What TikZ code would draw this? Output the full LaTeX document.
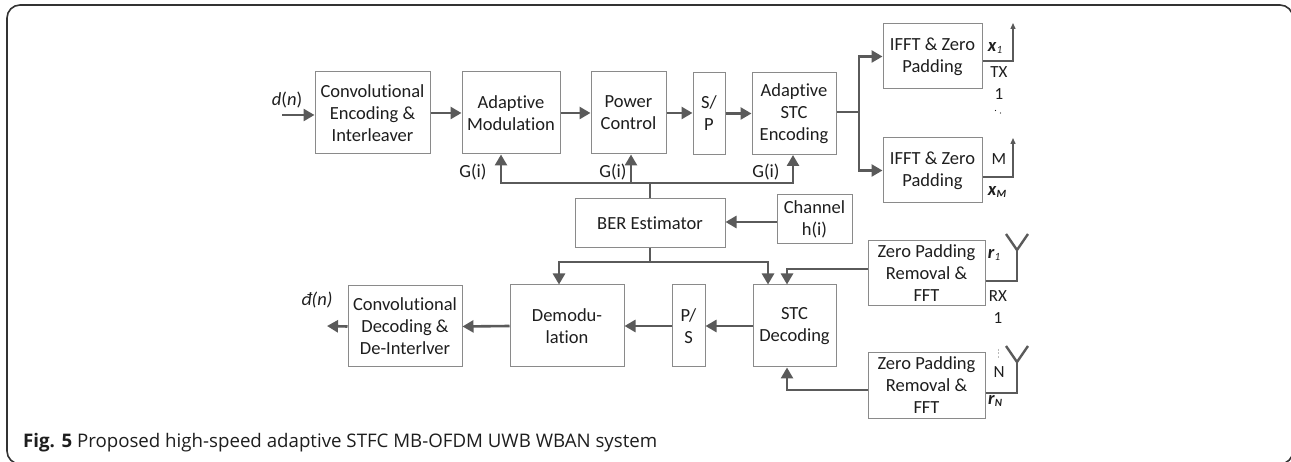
\documentclass[tikz,border=0pt]{standalone}
\usepackage{fontspec}
\setmainfont{Carlito}[Ligatures=NoCommon]
\newfontfamily\capfont{Open Sans}
\usetikzlibrary{arrows.meta,calc}
\definecolor{boxc}{HTML}{8A8A8A}
\definecolor{arrc}{HTML}{5A5A5A}
\definecolor{txtc}{HTML}{1E1E1E}
\definecolor{framec}{HTML}{333333}
\tikzset{
  blk/.style={draw=boxc, line width=1pt, align=center, inner sep=0pt, text=txtc,
    font=\fontsize{18.5}{22}\selectfont},
  arr/.style={draw=arrc, line width=2.6pt, -{Triangle[length=11pt,width=12pt]}},
  fline/.style={draw=arrc, line width=2.6pt},
  ant/.style={draw=arrc, line width=1.3pt},
  tip/.style={-{Triangle[length=6pt,width=5pt]}},
  lbl/.style={text=txtc, inner sep=0pt, font=\fontsize{18.5}{20}\selectfont},
  sml/.style={text=txtc, inner sep=0pt, font=\fontsize{17}{19}\selectfont}
}
\begin{document}
\begin{tikzpicture}[x=1pt,y=-1pt]
\useasboundingbox (0,0) rectangle (1291,462);
\fill[white] (0,0) rectangle (1291,462);
% frame
\draw[framec, line width=1.6pt, rounded corners=13pt] (7,5) rectangle (1293,464);

% transmitter chain
\node[blk, minimum width=115pt, minimum height=82pt] (conv) at (372.5,113) {Convolutional\\Encoding \&\\Interleaver};
\node[blk, minimum width=98pt, minimum height=82pt] (am) at (511,113) {Adaptive\\Modulation};
\node[blk, minimum width=75pt, minimum height=82pt] (pc) at (628.5,113) {Power\\Control};
\node[blk, minimum width=32pt, minimum height=82pt] (sp) at (709,113.5) {S/\\P};
\node[blk, minimum width=84pt, minimum height=82pt] (astc) at (794,113.5) {Adaptive\\STC\\Encoding};
\node[blk, minimum width=99pt, minimum height=65pt] (ifft1) at (932.5,56.5) {IFFT \& Zero\\Padding};
\node[blk, minimum width=99pt, minimum height=65pt] (ifft2) at (932.5,170.5) {IFFT \& Zero\\Padding};

% middle
\node[blk, minimum width=150pt, minimum height=49pt] (ber) at (650,223.5) {BER Estimator};
\node[blk, minimum width=75pt, minimum height=49pt] (chan) at (814.5,219.5) {Channel\\h(i)};

% receiver chain
\node[blk, minimum width=117pt, minimum height=65pt] (zp1) at (926.5,273.5) {Zero Padding\\Removal \&\\FFT};
\node[blk, minimum width=117pt, minimum height=65pt] (zp2) at (926.5,385.5) {Zero Padding\\Removal \&\\FFT};
\node[blk, minimum width=83pt, minimum height=82pt] (stcd) at (794.5,326) {STC\\Decoding};
\node[blk, minimum width=33pt, minimum height=82pt] (ps) at (688.5,326) {P/\\S};
\node[blk, minimum width=114pt, minimum height=82pt] (demod) at (567,326) {Demodu-\\lation};
\node[blk, minimum width=114pt, minimum height=81pt] (convd) at (405,326.5) {Convolutional\\Decoding \&\\De-Interlver};

% coordinates
\coordinate (in) at (282,115);
\coordinate (out) at (327,326);
\coordinate (bus) at (650,183);
\coordinate (bus2) at (650,262);
\coordinate (split) at (859,112);
\coordinate (tx1) at (1013,23);
\coordinate (tx2) at (1013,138);
\coordinate (rx1) at (1017,250);
\coordinate (rx2) at (1017,362);

% forward arrows
\draw[arr] (in) -- (conv.west |- in);
\draw[arr] (conv.east) -- (am.west);
\draw[arr] (am.east) -- (pc.west);
\draw[arr] (pc.east) -- (sp.west |- pc.east);
\draw[arr] (sp.east) -- (astc.west);
\draw[fline] (astc.east |- split) -- (split);
\draw[arr] (split) |- (ifft1.west);
\draw[arr] (split) |- (ifft2.west);

% feedback
\draw[fline] (ber.north) -- (bus);
\draw[arr] (bus) -| ([xshift=-10pt]am.south);
\draw[arr] (bus) -| ([xshift=2.5pt]pc.south);
\draw[arr] (bus) -| ([xshift=-1pt]astc.south);
\draw[arr] ([yshift=-2.5pt]chan.west) -- ([yshift=-2.5pt]chan.west -| ber.east);
\draw[fline] (ber.south) -- (bus2);
\draw[arr] (bus2) -| ([xshift=-8pt]demod.north);
\draw[arr] (bus2) -| ([xshift=-26.5pt]stcd.north);

% receiver arrows
\draw[arr] ([yshift=4.5pt]zp1.west) -| ([xshift=-7.5pt]stcd.north);
\draw[arr] ([yshift=-4.5pt]zp2.west) -| ([xshift=-7.5pt]stcd.south);
\draw[arr] (stcd.west) -- (ps.east);
\draw[arr] (ps.west) -- (demod.east);
\draw[arr] (demod.west) -- (convd.east);
\draw[arr] (convd.west) -- (out);

% TX antennas
\draw[ant, tip] ([yshift=-4.5pt]ifft1.east) -| (tx1);
\draw[ant, tip] ([yshift=-6.5pt]ifft2.east) -| (tx2);
% RX antennas
\draw[ant] ([yshift=-7.5pt]zp1.east) -| (rx1);
\draw[fline, line width=2.4pt, line join=miter] (1006,234) -- (rx1) -- (1028,234);
\draw[ant] ([yshift=-7.5pt]zp2.east) -| (rx2);
\draw[fline, line width=2.4pt, line join=miter] (1006,346) -- (rx2) -- (1028,346);

% labels
\node[lbl] (dn) at (287,100) {\textit{d}(\textit{n})};
\node[lbl] (dhn) at (317,300) {\textit{đ(n)}};
\node[lbl] (g1) at (473,172) {G(i)};
\node[lbl] (g2) at (613,172) {G(i)};
\node[lbl] (g3) at (766,172) {G(i)};
\node[lbl] (x1) at (995,48) {\textbf{\textit{x}}\raisebox{-0.2ex}{\fontsize{11}{11}\selectfont\textit{1}}};
\node[sml] (txl) at (999,72) {TX};
\node[sml] (txn) at (999,94) {1};
\fill[txtc] (995.5,110.5) circle (0.7pt) (1000.5,113) circle (0.7pt);
\node[sml] (ml) at (999,159) {M};
\node[lbl] (xm) at (997,192) {\textbf{\textit{x}}\raisebox{-0.2ex}{\fontsize{11}{11}\selectfont\textit{\textbf{M}}}};
\node[lbl] (r1) at (994,255) {\textbf{\textit{r}}\raisebox{-0.2ex}{\fontsize{11}{11}\selectfont\textit{1}}};
\node[sml] (rxl) at (998,296) {RX};
\node[sml] (rxn) at (998,318) {1};
\draw[boxc!60, line width=0.6pt, dash pattern=on 2pt off 1.5pt] (998,349) -- (998,359);
\node[sml] (nl) at (999,372) {N};
\node[lbl] (rn) at (995,401) {\textbf{\textit{r}}\raisebox{-0.2ex}{\fontsize{11}{11}\selectfont\textit{\textbf{N}}}};

% caption
\node[anchor=base west, inner sep=0pt, text=txtc] (cap) at (23,447)
  {\resizebox{634pt}{!}{\capfont\fontsize{16}{19}\selectfont\textbf{Fig. 5} Proposed high-speed adaptive STFC MB-OFDM UWB WBAN system}};
\end{tikzpicture}
\end{document}
